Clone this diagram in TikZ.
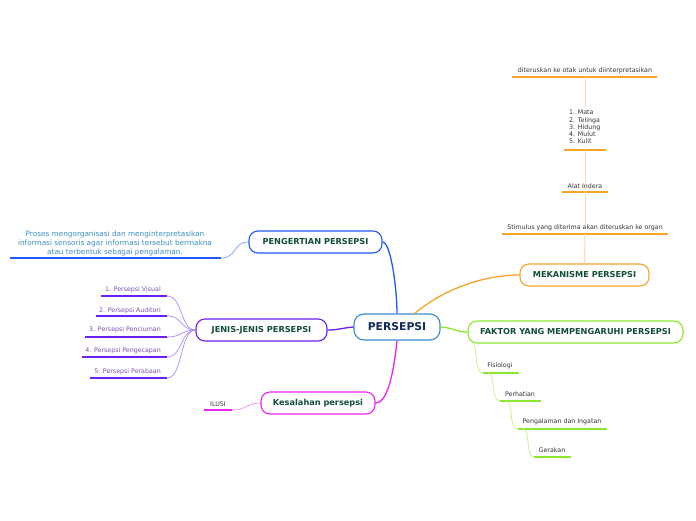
\documentclass[tikz,border=0pt]{standalone}
\usepackage{fontspec}
\setmainfont{DejaVu Sans}
\definecolor{cblue}{HTML}{3C8AD0}
\definecolor{pblue}{HTML}{1F5AF5}
\definecolor{deftxt}{HTML}{3A8EC4}
\definecolor{cpurple}{HTML}{6A1FF5}
\definecolor{lpurple}{HTML}{A88BFA}
\definecolor{ptxt}{HTML}{7A4FB0}
\definecolor{cmag}{HTML}{EE22EE}
\definecolor{lmag}{HTML}{F58AF5}
\definecolor{corange}{HTML}{F7A325}
\definecolor{lorange}{HTML}{FFD9A6}
\definecolor{cgreen}{HTML}{8CE62C}
\definecolor{lgreen}{HTML}{C2F27E}
\definecolor{tgreen}{HTML}{134D3C}
\definecolor{tnavy}{HTML}{142A5C}
\definecolor{tgray}{HTML}{333333}
\tikzset{
  topic/.style={draw, rounded corners=9pt, line width=1.1pt, fill=white,
    font=\bfseries\fontsize{8.2}{9}\selectfont, text=tgreen, minimum height=22pt, inner sep=0pt},
  sub/.style={font=\fontsize{6.3}{7.5}\selectfont, text=tgray, inner sep=0pt, yshift=-1pt},
  ul/.style={line width=1.6pt},
  conn/.style={line width=0.7pt},
  vconn/.style={lorange, line width=1pt},
  mainconn/.style={line width=1.3pt}
}
\begin{document}
\begin{tikzpicture}[x=1pt,y=-1pt]
\useasboundingbox (0,0) rectangle (696,520);

% central
\node[topic, draw=cblue, text=tnavy, font=\bfseries\fontsize{10.8}{12}\selectfont,
  minimum width=86pt, minimum height=26pt, rounded corners=10pt] (c) at (397,327) {PERSEPSI};

% PENGERTIAN
\node[topic, draw=pblue, minimum width=133pt] (peng) at (315.5,242) {PENGERTIAN PERSEPSI};
\node[sub, text=deftxt, align=center, font=\fontsize{7.3}{9}\selectfont] (def) at (115,242)
  {Proses mengorganisasi dan menginterpretasikan\\informasi sensoris agar informasi tersebut bermakna\\atau terbentuk sebagai pengalaman.};
\coordinate (defa) at (10,258);
\coordinate (defb) at (221,258);
\draw[ul, pblue] (defa) -- (defb);
\draw[conn, pblue!60] (defb) .. controls (237,258) and (233,242) .. (peng.west);
\draw[mainconn, pblue] (peng.east) .. controls (391,242) and (397,290) .. (c.north);

% JENIS
\node[topic, draw=cpurple, minimum width=131pt] (jen) at (261.5,330) {JENIS-JENIS PERSEPSI};
\draw[mainconn, cpurple] (c.west) .. controls (342,328) and (338,330) .. (jen.east);
\foreach \i/\t/\xa/\yt/\yu in {1/1. Persepsi Visual/101/289/296,
  2/2. Persepsi Auditori/96/310/316,
  3/3. Persepsi Penciuman/85/329/337,
  4/4. Persepsi Pengecapan/82/350/357,
  5/5. Persepsi Perabaan/90/371/378}{
  \node[sub, text=ptxt, anchor=east] (j\i) at (161,\yt) {\t};
  \coordinate (j\i a) at (\xa,\yu);
  \coordinate (j\i b) at (167,\yu);
  \draw[ul, cpurple] (j\i a) -- (j\i b);
  \draw[conn, lpurple] (j\i b) .. controls (183,\yu) and (180,330) .. (jen.west);
}

% KESALAHAN
\node[topic, draw=cmag, minimum width=114pt] (kes) at (318,403) {Kesalahan persepsi};
\draw[mainconn, cmag] (c.south) .. controls (393,380) and (386,403) .. (kes.east);
\node[sub] (ilusi) at (218,403) {ILUSI};
\coordinate (ila) at (204,410);
\coordinate (ilb) at (232,410);
\draw[ul, cmag] (ila) -- (ilb);
\draw[conn, lmag] (ilb) .. controls (247,410) and (246,403) .. (kes.west);

% MEKANISME
\node[topic, draw=corange, minimum width=129pt] (mek) at (584.5,275) {MEKANISME PERSEPSI};
\coordinate (cmek) at (414,314);
\draw[mainconn, corange] (cmek) .. controls (445,288) and (485,275) .. (mek.west);
\node[sub] (stim) at (585,227) {Stimulus yang diterima akan diteruskan ke organ};
\coordinate (sta) at (502,234); \coordinate (stb) at (668,234); \coordinate (stm) at (585,234);
\draw[ul, corange] (sta) -- (stb);
\node[sub] (alat) at (585,185) {Alat Indera};
\coordinate (ala) at (562,192); \coordinate (alb) at (608,192); \coordinate (alm) at (585,192);
\draw[ul, corange] (ala) -- (alb);
\node[sub, align=left, anchor=north west, font=\fontsize{6.3}{7.3}\selectfont] (list) at (569,109)
  {1. Mata\\2. Telinga\\3. Hidung\\4. Mulut\\5. Kulit};
\coordinate (lia) at (564,150); \coordinate (lib) at (606,150); \coordinate (lim) at (585,150);
\draw[ul, corange] (lia) -- (lib);
\node[sub] (otak) at (585,70) {diteruskan ke otak untuk diinterpretasikan};
\coordinate (ota) at (512,77); \coordinate (otb) at (657,77); \coordinate (otm) at (585,77);
\draw[ul, corange] (ota) -- (otb);
\draw[vconn] (mek.north) -- (stm);
\draw[vconn] (stim.north -| stm) -- (alm);
\draw[vconn] (alm) -- (lim);
\draw[vconn] ([yshift=3pt]list.north -| lim) -- (otm);

% FAKTOR
\node[topic, draw=cgreen, minimum width=215pt] (fak) at (575.5,332) {FAKTOR YANG MEMPENGARUHI PERSEPSI};
\draw[mainconn, cgreen] (c.east) .. controls (455,328) and (455,332) .. (fak.west);
\coordinate (fk0) at (473,343);
\node[sub] (f1) at (500,365) {Fisiologi};
\coordinate (f1a) at (483,373); \coordinate (f1b) at (519,373); \coordinate (f1s) at (488,373);
\node[sub] (f2) at (520,393) {Perhatian};
\coordinate (f2a) at (500,401); \coordinate (f2b) at (541,401); \coordinate (f2s) at (506,401);
\node[sub] (f3) at (562,421) {Pengalaman dan Ingatan};
\coordinate (f3a) at (518,429); \coordinate (f3b) at (607,429); \coordinate (f3s) at (523,429);
\node[sub] (f4) at (552,449) {Gerakan};
\coordinate (f4a) at (534,457); \coordinate (f4b) at (571,457);
\foreach \i in {1,2,3,4}{\draw[ul, cgreen] (f\i a) -- (f\i b);}
\draw[conn, lgreen] (fk0) .. controls (478,348) and (474,373) .. (f1a);
\draw[conn, lgreen] (f1s) .. controls (496,373) and (490,401) .. (f2a);
\draw[conn, lgreen] (f2s) .. controls (514,401) and (508,429) .. (f3a);
\draw[conn, lgreen] (f3s) .. controls (531,429) and (525,457) .. (f4a);
\end{tikzpicture}
\end{document}
